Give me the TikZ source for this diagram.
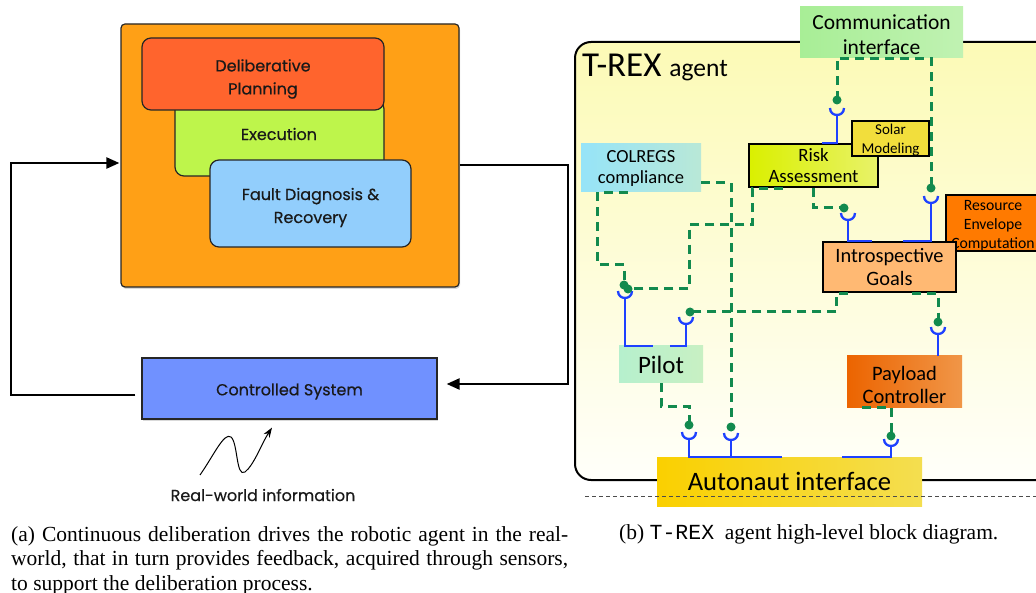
\documentclass[tikz,border=0pt]{standalone}
\usepackage{fontspec}
\setmainfont{Liberation Serif}
\setmonofont{Liberation Mono}
\newfontfamily\futura[FakeBold=0.5]{Poppins}
\newfontfamily\gill{Carlito}
\usetikzlibrary{arrows.meta,calc,shadows}

\definecolor{orA}{RGB}{255,160,22}
\definecolor{delibC}{RGB}{255,100,45}
\definecolor{execC}{RGB}{190,245,75}
\definecolor{faultC}{RGB}{146,206,252}
\definecolor{ctrlC}{RGB}{112,145,255}
\definecolor{dashgreen}{RGB}{18,138,78}
\definecolor{sockblue}{RGB}{30,65,255}
\definecolor{commL}{RGB}{168,238,150}
\definecolor{commR}{RGB}{192,242,178}
\definecolor{colL}{RGB}{150,228,248}
\definecolor{colR}{RGB}{185,232,215}
\definecolor{raL}{RGB}{218,240,0}
\definecolor{raR}{RGB}{232,242,105}
\definecolor{solarC}{RGB}{242,222,60}
\definecolor{resC}{RGB}{255,122,0}
\definecolor{igC}{RGB}{255,185,115}
\definecolor{pilL}{RGB}{182,240,205}
\definecolor{pilR}{RGB}{200,240,195}
\definecolor{payL}{RGB}{236,100,0}
\definecolor{payR}{RGB}{240,150,72}
\definecolor{autL}{RGB}{250,208,0}
\definecolor{autR}{RGB}{244,222,80}
\definecolor{trexT}{RGB}{252,250,182}
\definecolor{trexB}{RGB}{255,255,250}

\begin{document}
\begin{tikzpicture}[x=1pt,y=-1pt,
  lbl/.style={font=\futura\fontsize{16}{23}\selectfont, text=black!90, align=center, inner sep=0pt},
  lbox/.style={draw=black!85, line width=1.2pt, rounded corners=9pt, inner sep=0pt},
  thickarr/.style={line width=2.2pt, -{Triangle[length=13pt,width=11pt]}},
  rbox/.style={inner sep=0pt, align=center, font=\gill\fontsize{19}{21}\selectfont},
  boldborder/.style={draw=black, line width=2.6pt},
  blueln/.style={draw=sockblue, line width=2.3pt},
  greendash/.style={draw=dashgreen, line width=3pt, dash pattern=on 9pt off 6pt},
  capt/.style={inner sep=0pt, font=\fontsize{21.5}{24.5}\selectfont},
  cup/.pic={\draw[blueln] (-7,0) .. controls (-7,9.33) and (7,9.33) .. (7,0);},
  gdot/.style={fill=dashgreen}
]
\path[use as bounding box] (0,0) rectangle (1036,593);
\clip (0,0) rectangle (1036,593);

% ---------------- left diagram ----------------
\node[lbox, fill=orA, minimum width=338pt, minimum height=263pt, rounded corners=4pt,
  drop shadow={shadow xshift=1pt, shadow yshift=-2pt, opacity=0.3}] (agentA) at (290,155.5) {};
\node[lbox, fill=execC, minimum width=209pt, minimum height=76pt] (exec) at (279.5,138) {};
\node[lbl] (execlbl) at (279,134) {Execution};
\node[lbox, fill=delibC, minimum width=242pt, minimum height=72pt] (delib) at (263,74) {};
\node[lbl] (deliblbl) at (263,79) {Deliberative\\Planning};
\node[lbox, fill=faultC, minimum width=201pt, minimum height=87pt] (fault) at (310.5,203.5) {};
\node[lbl] (faultlbl) at (310.5,207.5) {Fault Diagnosis \&\\Recovery};
\node[lbox, fill=ctrlC, rounded corners=0pt, minimum width=295pt, minimum height=61pt,
  drop shadow={shadow xshift=1pt, shadow yshift=-2pt, opacity=0.3}] (ctrl) at (289.5,388.5) {};
\node[lbl] (ctrllbl) at (289.5,391.5) {Controlled System};

\coordinate (loopL) at (11,163);
\coordinate (loopR) at (568,165);
\draw[thickarr] ($(ctrl.west)+(-6,6.5)$) -| (loopL) -- ($(agentA.west)+(-1,7.5)$);
\draw[thickarr] ($(agentA.east)+(0,9.5)$) -- (loopR) |- ($(ctrl.east)+(9,-4.5)$);

\coordinate (sq) at (200,475);
\draw[line width=1pt, -{Stealth[length=10pt,width=7pt]}] (sq) .. controls (214,455) and (224,432) .. (231,437)
  .. controls (238,443) and (236,478) .. (245,472) .. controls (254,465) and (262,443) .. ($(ctrl.south)+(-17.5,8)$);
\node[lbl] (rw) at (263,495) {Real-world information};

\node[capt, anchor=north west, text width=557pt, align=justify] (capA) at (11,526)
 {(a) Continuous deliberation drives the robotic agent in the real-\linebreak world, that in turn provides feedback, acquired through sensors,\linebreak to support the deliberation process.};

% ---------------- right diagram ----------------
\node[draw=black, line width=2pt, rounded corners=16pt, minimum width=485pt, minimum height=438pt,
  top color=trexT, bottom color=trexB] (trex) at (817.5,261) {};
\node[anchor=base west, inner sep=0pt, font=\gill] (trexlbl) at (582,77)
  {\fontsize{35}{35}\selectfont T-REX \fontsize{25.5}{26}\selectfont agent};

\node[rbox, left color=commL, right color=commR, minimum width=163pt, minimum height=51pt] (comm) at (881.5,32.5) {};
\node[rbox, font=\gill\fontsize{21.5}{25}\selectfont] (commlbl) at (881.5,35) {Communication\\interface};
\node[rbox, font=\gill\fontsize{18.5}{21}\selectfont, left color=colL, right color=colR, minimum width=120pt, minimum height=48pt] (colregs) at (641,168) {COLREGS\\compliance};
\node[rbox, boldborder, font=\gill\fontsize{18.8}{21}\selectfont, left color=raL, right color=raR, minimum width=129pt, minimum height=43pt] (RA) at (813.5,165.5) {Risk\\Assessment};
\node[rbox, boldborder, fill=solarC, minimum width=77pt, minimum height=35pt] (solar) at (890.5,138.5) {};
\node[rbox, font=\gill\fontsize{15}{19}\selectfont] (solarlbl) at (890.5,140.5) {Solar\\Modeling};
\node[rbox, boldborder, fill=resC, minimum width=98pt, minimum height=56pt] (res) at (995,223) {};
\node[rbox, font=\gill\fontsize{15.7}{19}\selectfont] (reslbl) at (993,226) {Resource\\Envelope\\Computation};
\node[rbox, boldborder, font=\gill\fontsize{20.4}{23}\selectfont, fill=igC, minimum width=133pt, minimum height=50pt] (IG) at (889.5,267) {Introspective\\Goals};
\node[rbox, font=\gill\fontsize{25}{25}\selectfont, left color=pilL, right color=pilR, minimum width=84pt, minimum height=37pt] (pilot) at (661,364.5) {Pilot};
\node[rbox, left color=payL, right color=payR, minimum width=115pt, minimum height=51pt] (payload) at (904.5,381.5) {};
\node[rbox, font=\gill\fontsize{20.5}{23}\selectfont] (paylbl) at (904.5,384.5) {Payload\\Controller};
\node[rbox, font=\gill\fontsize{26.6}{27}\selectfont, left color=autL, right color=autR, minimum width=265pt, minimum height=49pt] (auto) at (789.5,481.5) {Autonaut interface};

% socket (cup) centres
\coordinate (sRA) at (837,108);
\coordinate (sIGr) at (931,196);
\coordinate (sIGl) at (848,213);
\coordinate (sPl) at (625,291);
\coordinate (sPr) at (686,317);
\coordinate (sPay) at (938,327);
\coordinate (sAp) at (689,432);
\coordinate (sAc) at (731,433);
\coordinate (sAy) at (891,439);
% ball (dot) centres
\coordinate (dRA) at (837,100);
\coordinate (dIGr) at (931,188);
\coordinate (dIGl) at (844,208);
\coordinate (dPl1) at (624,285);
\coordinate (dPl2) at (628,289);
\coordinate (dPr) at (690,312);
\coordinate (dPay) at (938,322);
\coordinate (dAp) at (689,425);
\coordinate (dAc) at (731,427);
\coordinate (dAy) at (891,436);

% dashed (required) connectors
\draw[greendash] (dRA) -- (dRA |- comm.south) -- (dIGr |- comm.south) -- (dIGr);
\draw[greendash] (RA.south) -- (RA.south |- dIGl) -- (dIGl);
\draw[greendash] ($(colregs.south west)+(47,0)$) -- ($(colregs.south west)+(17,0)$) |- ($(dPl1)+(0,-20)$) -- (dPl1);
\draw[greendash] ($(RA.south west)+(35,0)$) -- ($(RA.south west)+(5,0)$) |- ($(dPl2)+(61,-64)$) |- (dPl2);
\draw[greendash] ($(IG.south west)+(26,0)$) -- ($(IG.south west)+(15,0)$) |- (dPr);
\draw[greendash] ($(IG.south east)+(-45,0)$) -- (dPay |- IG.south) -- (dPay);
\draw[greendash] (pilot.south) |- ($(dAp)+(0,-19)$) -- (dAp);
\draw[greendash] ($(colregs.east)+(0,15)$) -| (dAc);
\draw[greendash] ($(payload.south)+(-42.5,0)$) -- (dAy |- payload.south) -- (dAy);

% provided-interface sockets
\draw[blueln] ($(sRA)+(0,7)$) -- (sRA |- RA.north) -- ++(-15,0);
\draw[blueln] ($(sIGr)+(0,7)$) -- (sIGr |- IG.north) -- ++(-28,0);
\draw[blueln] ($(sIGl)+(0,7)$) -- (sIGl |- IG.north) -- ++(24,0);
\draw[blueln] ($(sPl)+(0,7)$) -- (sPl |- pilot.north) -- ++(28,0);
\draw[blueln] ($(sPr)+(0,7)$) -- (sPr |- pilot.north) -- ++(-16,0);
\draw[blueln] ($(sPay)+(0,7)$) -- (sPay |- payload.north);
\draw[blueln] ($(sAp)+(0,7)$) -- (sAp |- auto.north) -- ($(auto.north west)+(125,0)$);
\draw[blueln] ($(sAc)+(0,7)$) -- (sAc |- auto.north);
\draw[blueln] ($(sAy)+(0,7)$) -- (sAy |- auto.north) -- ++(-49,0);
\foreach \s in {sRA,sIGr,sIGl,sPl,sPr,sPay,sAp,sAc,sAy} \pic at (\s) {cup};
\foreach \d in {dRA,dIGr,dIGl,dPl1,dPl2,dPr,dPay,dAp,dAc,dAy} \fill[gdot] (\d) circle (4.5pt);

\draw[black!70, line width=0.8pt, dash pattern=on 4pt off 3pt] (585,496) -- (1036,496);

\node[capt, anchor=base west] (capB) at (619,539) {(b) \texttt{T-REX}\ \ agent high-level block diagram.};
\end{tikzpicture}
\end{document}
